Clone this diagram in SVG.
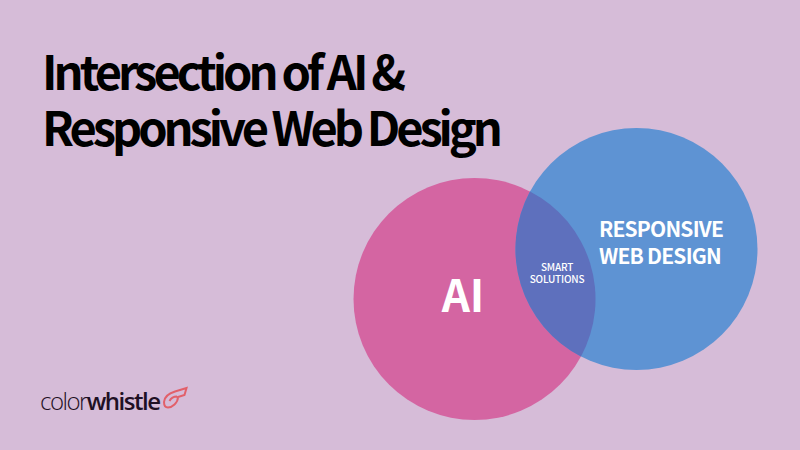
<svg xmlns="http://www.w3.org/2000/svg" width="800" height="450" viewBox="0 0 800 450">
<style>
text{font-family:"Noto Sans CJK KR","Noto Sans",sans-serif}
.t{font-size:47px;font-weight:700;fill:#000;letter-spacing:-2px}
.w{fill:#fff;text-anchor:middle;font-weight:500}
.r{font-size:21px;font-weight:700;letter-spacing:-.8px}
.s{font-size:10px;letter-spacing:-.2px}
</style>
<rect width="800" height="450" fill="#d6bcd8"/>
<text class="t" x="42" y="90" textLength="362">Intersection of AI &amp;</text>
<text class="t" x="42" y="146" textLength="459">Responsive Web Design</text>
<g id="ai"><circle cx="474.500" cy="299" r="121" fill="#d465a2"/><text class="w" x="463" y="312" font-size="44" font-weight="700" style="font-weight:700">AI</text></g>
<g id="rwd"><circle cx="636.500" cy="249" r="121" fill="#5e93d3"/><text class="w r" x="661" y="237">RESPONSIVE</text><text class="w r" x="660" y="264">WEB DESIGN</text></g>
<g id="overlap"><path d="M530 191.500A121 121 0 0 0 581 356.500A121 121 0 0 0 530 191.500Z" fill="#5e70bd"/><text class="w s" x="557" y="271">SMART</text><text class="w s" x="557" y="283">SOLUTIONS</text></g>
<g id="logo"><text x="40" y="410" font-size="24" style="font-family:'Open Sans',sans-serif" font-weight="300" fill="#1f1024" textLength="121">color<tspan font-weight="600">whistle</tspan></text><path d="M164 402C164.500 396 170 393 175 391.500L186.500 388L184.500 395L178 397C178 403 172 407.500 168 407.500C165 407.500 164 405 164 402ZM169.500 401C171 398 174 396.500 177 396.500" fill="none" stroke="#e2606a" stroke-width="2"/></g>
</svg>
